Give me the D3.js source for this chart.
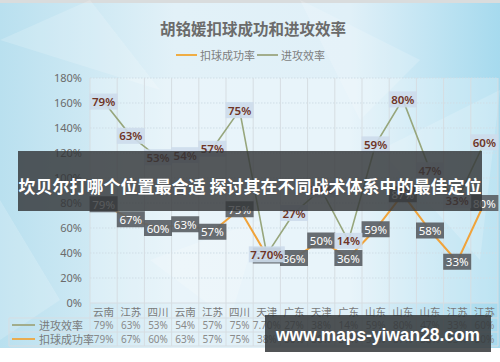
<!DOCTYPE html>
<html><head><meta charset="utf-8">
<script src="https://cdn.jsdelivr.net/npm/d3@7"></script>
<style>html,body{margin:0;padding:0;background:#fff;}svg{display:block;font-family:"Noto Sans CJK SC","Noto Sans",sans-serif;}</style>
</head><body>
<script>
const categories = ["云南","江苏","四川","云南","江苏","四川","天津","广东","天津","广东","山东","山东","山东","江苏","江苏"];
const attackEff = [79,63,53,54,57,75,7.7,27,38,14,59,80,47,33,60];
const spikeRate = [79,67,60,63,57,75,38,36,50,36,59,87,58,33,80];
const yTicks = [0,20,40,60,80,100,120,140,160,180];
const seriesNames = ["进攻效率","扣球成功率"];
const title = "胡铭媛扣球成功和进攻效率";
const bannerText = "坎贝尔打哪个位置最合适 探讨其在不同战术体系中的最佳定位";
const watermark = "www.maps-yiwan28.com";

(function(){
const W = 500, H = 362;
const svg = d3.select("body").append("svg").attr("width", W).attr("height", H);
const defs = svg.append("defs");
const g1 = defs.append("linearGradient").attr("id","bg").attr("x1","0").attr("y1","0").attr("x2","1").attr("y2","0");
g1.append("stop").attr("offset","0").attr("stop-color","#b9e0ef");
g1.append("stop").attr("offset","0.35").attr("stop-color","#e2f1f8");
g1.append("stop").attr("offset","0.7").attr("stop-color","#e0f0f8");
g1.append("stop").attr("offset","1").attr("stop-color","#a6daee");

svg.append("rect").attr("width",W).attr("height",H).attr("fill","#fff");
svg.append("rect").attr("x",0).attr("y",0).attr("width",W).attr("height",348).attr("fill","url(#bg)");
svg.append("rect").attr("x",0).attr("y",0).attr("width",W).attr("height",3).attr("fill","#d9dcdd");
const polys = [[[0,40],[90,0],[160,90]],[[300,0],[420,60],[360,120]],[[380,150],[500,90],[480,260]],[[0,200],[60,300],[0,340]],[[150,260],[260,220],[230,320]]];
svg.selectAll("polygon.bgp").data(polys).join("polygon").attr("class","bgp")
  .attr("points",d=>d.map(p=>p.join(",")).join(" ")).attr("fill","#ffffff").attr("opacity",0.18);

const pL = 90, pR = 498, pT = 78, pB = 303;
const x = d3.scaleBand().domain(d3.range(categories.length)).range([pL,pR]);
const y = d3.scaleLinear().domain([0,180]).range([pB,pT]);
const y2 = d3.scaleLinear().domain([-15,90]).range([pB,pT]);

svg.append("rect").attr("x",pL).attr("y",pT).attr("width",pR-pL).attr("height",pB-pT).attr("fill","#ffffff").attr("opacity",0.25);

svg.append("g").selectAll("line").data(yTicks.filter(t=>t>0)).join("line")
  .attr("x1",pL).attr("x2",pR).attr("y1",d=>y(d)).attr("y2",d=>y(d))
  .attr("stroke","#cfdde6").attr("stroke-width",1).attr("stroke-dasharray","1.5,1.5");

const rowY = [pB, 318, 332, 346];
svg.append("g").selectAll("line").data(rowY).join("line")
  .attr("x1",(d,i)=>i===0?pL:9).attr("x2",pR).attr("y1",d=>d).attr("y2",d=>d)
  .attr("stroke","#d6dde2").attr("stroke-width",1);
svg.append("line").attr("x1",9).attr("x2",9).attr("y1",318).attr("y2",346).attr("stroke","#d6dde2");
const vx = d3.range(categories.length+1).map(i=> i<categories.length ? x(i) : pR);
svg.append("g").selectAll("line").data(vx).join("line")
  .attr("x1",d=>d).attr("x2",d=>d).attr("y1",pT).attr("y2",346)
  .attr("stroke","#d6dde2").attr("stroke-width",1);

const yAxis = d3.axisLeft(y).tickValues(yTicks).tickFormat(d=>d+"%").tickSize(0).tickPadding(8);
const ya = svg.append("g").attr("transform",`translate(${pL},0)`).call(yAxis);
ya.select(".domain").remove();
ya.selectAll("text").attr("font-size",11).attr("fill","#6a6a6a").attr("font-family","'Noto Sans','Noto Sans CJK SC',sans-serif");

const cx = i => x(i) + x.bandwidth()/2;
const fmt = v => (v%1 ? v.toFixed(2) : v) + "%";
svg.append("g").selectAll("text").data(categories).join("text")
  .attr("x",(d,i)=>cx(i)).attr("y",311).attr("text-anchor","middle").attr("dominant-baseline","central")
  .attr("font-size",10.5).attr("fill","#7a7a7a").text(d=>d);
[attackEff, spikeRate].forEach((arr,r)=>{
  svg.append("g").selectAll("text").data(arr).join("text")
    .attr("x",(d,i)=>cx(i)).attr("y",325+r*14).attr("text-anchor","middle").attr("dominant-baseline","central")
    .attr("font-size",10).attr("fill","#8a8a8a").attr("font-family","'Noto Sans',sans-serif").text(fmt);
});
const sColors = ["#a2ad8c","#e9ac4f"];
seriesNames.forEach((n,r)=>{
  const yy = 325 + r*14;
  svg.append("line").attr("x1",12).attr("x2",35).attr("y1",yy).attr("y2",yy).attr("stroke",sColors[r]).attr("stroke-width",2);
  svg.append("text").attr("x",39).attr("y",yy).attr("dominant-baseline","central").attr("font-size",11).attr("fill","#7a7a7a").text(n);
});

const lineG = d3.line().x((d,i)=>cx(i)).y(d=>y2(d));
const lineO = d3.line().x((d,i)=>cx(i)).y(d=>y(d));
svg.append("path").datum(spikeRate).attr("d",lineO).attr("fill","none").attr("stroke","#f0a33a").attr("stroke-width",2);
svg.append("path").datum(attackEff).attr("d",lineG).attr("fill","none").attr("stroke","#97a67c").attr("stroke-width",1.6);

const lo = svg.append("g").selectAll("g").data(spikeRate).join("g")
  .attr("transform",(d,i)=>`translate(${cx(i)},${y(d)})`);
lo.append("rect").attr("x",-14).attr("y",-8).attr("width",28).attr("height",16).attr("fill","#5b6166").attr("opacity",0.92);
lo.append("text").attr("text-anchor","middle").attr("dominant-baseline","central").attr("font-size",11.5)
  .attr("fill","#ffffff").attr("font-family","'Noto Sans',sans-serif").text(fmt);
const lg = svg.append("g").selectAll("g").data(attackEff).join("g")
  .attr("transform",(d,i)=>`translate(${cx(i)},${y2(d)})`);
lg.append("rect").attr("x",d=>d%1? -18:-14).attr("y",-8).attr("width",d=>d%1?36:28).attr("height",16).attr("fill","#cddbeb").attr("opacity",0.9);
lg.append("text").attr("text-anchor","middle").attr("dominant-baseline","central").attr("font-size",11.5)
  .attr("fill","#6e3426").attr("font-weight","600").attr("font-family","'Noto Sans',sans-serif").text(fmt);

svg.append("text").attr("x",253).attr("y",28).attr("text-anchor","middle").attr("dominant-baseline","central")
  .attr("font-size",15.5).attr("font-weight","bold").attr("fill","#6b6b6b").text(title);
const legendItems = [{n:seriesNames[1],c:"#efad45",x:176},{n:seriesNames[0],c:"#a2ad8c",x:257}];
legendItems.forEach(it=>{
  svg.append("line").attr("x1",it.x).attr("x2",it.x+21).attr("y1",55).attr("y2",55).attr("stroke",it.c).attr("stroke-width",2);
  svg.append("text").attr("x",it.x+24).attr("y",55).attr("dominant-baseline","central").attr("font-size",11).attr("fill","#7d7d7d").text(it.n);
});

svg.append("rect").attr("x",18).attr("y",151).attr("width",464).attr("height",60).attr("fill","#333638").attr("opacity",0.82);
svg.append("text").attr("x",250).attr("y",185).attr("text-anchor","middle").attr("dominant-baseline","central")
  .attr("font-size",17).attr("font-weight","bold").attr("fill","#ffffff").text(bannerText);
svg.append("rect").attr("x",265).attr("y",315).attr("width",226).attr("height",37).attr("fill","#333638").attr("opacity",0.85);
svg.append("text").attr("x",378).attr("y",334).attr("text-anchor","middle").attr("dominant-baseline","central")
  .attr("font-size",19).attr("font-weight","bold").attr("fill","#ffffff").attr("font-family","'Liberation Sans','Noto Sans',sans-serif")
  .attr("textLength",204).attr("lengthAdjust","spacingAndGlyphs").text(watermark);
})();
</script>
</body></html>
